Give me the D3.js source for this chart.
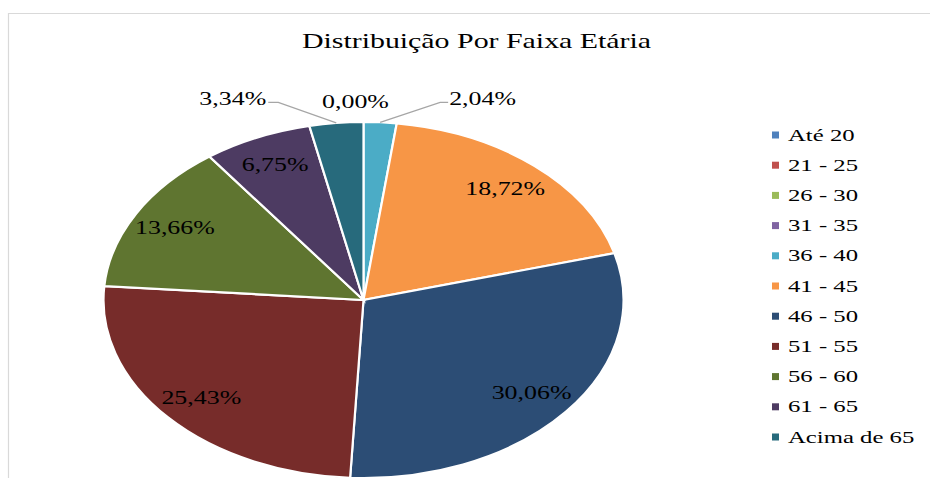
<!DOCTYPE html>
<html>
<head>
<meta charset="utf-8">
<script src="https://cdn.jsdelivr.net/npm/d3@7"></script>
<style>
  html, body { margin: 0; padding: 0; background: #fff; }
  svg { display: block; }
  text { font-family: "Liberation Serif", "Times New Roman", Times, serif; fill: #000; }
</style>
</head>
<body>
<svg id="chart" width="930" height="483"></svg>
<script>
// ---- Data ----
const title = "Distribuição Por Faixa Etária";
const categories = ["Até 20", "21 - 25", "26 - 30", "31 - 35", "36 - 40", "41 - 45", "46 - 50", "51 - 55", "56 - 60", "61 - 65", "Acima de 65"];
const values = [0.00, 0.00, 0.00, 0.00, 2.04, 18.72, 30.06, 25.43, 13.66, 6.75, 3.34];
const colors = ["#4F81BD", "#C0504D", "#9BBB59", "#8064A2", "#4BACC6", "#F79646", "#2C4D75", "#772C2A", "#5F7530", "#4D3B62", "#276A7C"];

// ---- Layout ----
const W = 930, H = 483;
const cx = 363.5, cy = 300, rx = 260, ry = 178;
const sxPie = rx / ry;
const textStretch = 1.44;
const legendStretch = 1.5;

const svg = d3.select("#chart");

// frame
svg.append("path")
  .attr("d", `M8.5,${H - 5} L8.5,13.5 L${W},13.5`)
  .attr("fill", "none").attr("stroke", "#d9d9d9").attr("stroke-width", 1.2);

// title
svg.append("text")
  .attr("transform", `translate(476.5,48) scale(1.39,1)`)
  .attr("text-anchor", "middle")
  .attr("font-size", 21.5)
  .text(title);

const data = categories.map((c, i) => ({ cat: c, value: values[i], color: colors[i] }));
const pie = d3.pie().sort(null).value(d => d.value);
const arcs = pie(data);
const arc = d3.arc().innerRadius(0).outerRadius(ry);

const g = svg.append("g").attr("transform", `translate(${cx},${cy}) scale(${sxPie},1)`);
g.selectAll("path")
  .data(arcs.filter(d => d.data.value > 0))
  .join("path")
  .attr("d", arc)
  .attr("fill", d => d.data.color)
  .attr("stroke", "#fff")
  .attr("stroke-width", 2.2)
  .attr("vector-effect", "non-scaling-stroke");

const fmt = v => v.toFixed(2).replace(".", ",") + "%";
const pt = (a, f) => [cx + rx * f * Math.sin(a), cy - ry * f * Math.cos(a)];
const fs = 18;
const base = fs * 0.338;

function addLabel(x, yc, anchor, txt) {
  svg.append("text")
    .attr("transform", `translate(${x},${yc + base}) scale(${textStretch},1)`)
    .attr("text-anchor", anchor)
    .attr("font-size", fs)
    .text(txt);
}

let zeroShown = false;
arcs.forEach(d => {
  const mid = (d.startAngle + d.endAngle) / 2;
  const v = d.data.value;
  if (v === 0) {
    if (zeroShown) return;
    zeroShown = true;
    const [ax] = pt(mid, 1);
    addLabel(ax - 8, 102, "middle", fmt(v));
  } else if (v < 4) {
    const [ax, ay] = pt(mid, 1);
    const right = Math.sin(mid) >= 0;
    const elbowY = cy - ry * 1.11;
    const ex = ax + (right ? 60 : -58);
    svg.append("polyline")
      .attr("points", `${ax},${ay} ${ex},${elbowY} ${ex + (right ? 8 : -10)},${elbowY}`)
      .attr("fill", "none").attr("stroke", "#a6a6a6").attr("stroke-width", 1.3);
    addLabel(ex + (right ? 9 : -12), elbowY - 4, right ? "start" : "end", fmt(v));
  } else {
    const [x, y] = pt(mid, 0.83);
    addLabel(x, y, "middle", fmt(v));
  }
});

// legend
const legend = svg.append("g");
const ly = d3.scalePoint().domain(categories).range([135, 437]);
categories.forEach((c, i) => {
  legend.append("rect")
    .attr("x", 772).attr("y", ly(c) - 3.5)
    .attr("width", 7).attr("height", 7)
    .attr("fill", colors[i]);
  legend.append("text")
    .attr("transform", `translate(788,${ly(c) + 16.5 * 0.338}) scale(${legendStretch},1)`)
    .attr("font-size", 16.5)
    .text(c);
});
</script>
</body>
</html>
